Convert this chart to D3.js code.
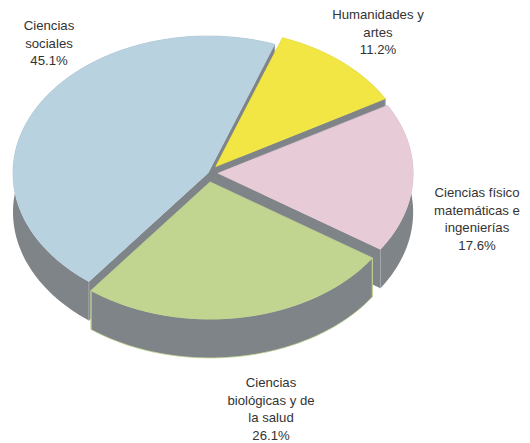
<!DOCTYPE html>
<meta charset="utf-8">

<style>
  body { margin: 0; background: #fff; }
  svg { display: block; }
  text {
    font-family: "Liberation Sans", Arial, sans-serif;
    font-size: 13.2px;
    fill: #333;
    text-anchor: middle;
  }
</style>

<body>
  <div id="chart"></div>

  <script src="https://d3js.org/d3.v7.min.js"></script>
  <script>

    // data, clockwise from the top
    var categories = [
      ["Humanidades y", "artes"],
      ["Ciencias físico", "matemáticas e", "ingenierías"],
      ["Ciencias", "biológicas y de", "la salud"],
      ["Ciencias", "sociales"]
    ];
    var values = [11.2, 17.6, 26.1, 45.1];

    // styling and layout, same order as the data
    var colors = ["#f2e644", "#e7ccd8", "#c1d591", "#b9d2e0"];
    var bandEdges = ["none", "none", "#c1d591", "none"];
    var cornerEdges = ["#a4a8aa", "#a4a8aa", "#c1d591", "#a4a8aa"];
    var explode = [0.062, 0.052, 0.066, 0];
    var labelX = [378, 477, 271, 49];
    var labelY = [19, 197, 387, 30];

    var width = 530, height = 443;
    var cx = 208, cy = 173, rx = 195, ry = 137, depth = 39;
    var lineHeight = 17.5;

    var svg = d3.select("#chart")
      .append("svg")
      .attr("width", width)
      .attr("height", height);

    // the pie is a flat circle squashed into an ellipse
    var x = d3.scaleLinear().domain([-1, 1]).range([cx - rx, cx + rx]);
    var y = d3.scaleLinear().domain([-1, 1]).range([cy - ry, cy + ry]);

    var toRad = Math.PI / 180;
    var pie = d3.pie().sort(null)
      .startAngle(20 * toRad)
      .endAngle(380 * toRad);

    var slices = pie(values).map(function (d, i) {
      var mid = (d.startAngle + d.endAngle) / 2;
      d.ox = Math.sin(mid) * explode[i];
      d.oy = -Math.cos(mid) * explode[i];
      d.index = i;
      return d;
    });

    // point on a slice, a = angle, r = 0..1, dz = pixels down
    function pt(d, a, r, dz) {
      return [x(d.ox + Math.sin(a) * r), y(d.oy - Math.cos(a) * r) + dz];
    }

    function rim(d, dz) {
      return d3.range(d.startAngle, d.endAngle, toRad).concat(d.endAngle)
        .map(function (a) { return pt(d, a, 1, dz); });
    }

    var line = d3.line();

    // walls first: outer band, the two cut faces, then the corner lines
    var walls = svg.append("g");

    [3, 0, 1, 2].forEach(function (i) {
      var d = slices[i];
      var g = walls.append("g").attr("fill", "#7f8488");

      [d.startAngle, d.endAngle].forEach(function (a) {
        g.append("path")
          .attr("d", line([pt(d, a, 0, 0), pt(d, a, 1, 0), pt(d, a, 1, depth), pt(d, a, 0, depth)]) + "Z");
      });

      g.append("path")
        .attr("stroke", bandEdges[i])
        .attr("stroke-width", 0.8)
        .attr("d", line(rim(d, 0).concat(rim(d, depth).reverse())) + "Z");

      [d.startAngle, d.endAngle].forEach(function (a) {
        g.append("path")
          .attr("stroke", cornerEdges[i])
          .attr("stroke-width", 0.8)
          .attr("d", line([pt(d, a, 1, 0), pt(d, a, 1, depth)]));
      });
    });

    // tops
    svg.append("g")
      .selectAll("path")
      .data(slices)
      .join("path")
      .attr("fill", function (d) { return colors[d.index]; })
      .attr("stroke", function (d) { return colors[d.index]; })
      .attr("stroke-width", 0.8)
      .attr("d", function (d) {
        return line([pt(d, d.startAngle, 0, 0)].concat(rim(d, 0))) + "Z";
      });

    // labels
    var labels = svg.append("g")
      .selectAll("text")
      .data(slices)
      .join("text")
      .attr("y", function (d) { return labelY[d.index]; });

    labels.selectAll("tspan")
      .data(function (d) {
        return categories[d.index].concat(values[d.index].toFixed(1) + "%")
          .map(function (t) { return { t: t, i: d.index }; });
      })
      .join("tspan")
      .attr("x", function (d) { return labelX[d.i]; })
      .attr("dy", function (d, j) { return j ? lineHeight : 0; })
      .text(function (d) { return d.t; });
  </script>
</body>
